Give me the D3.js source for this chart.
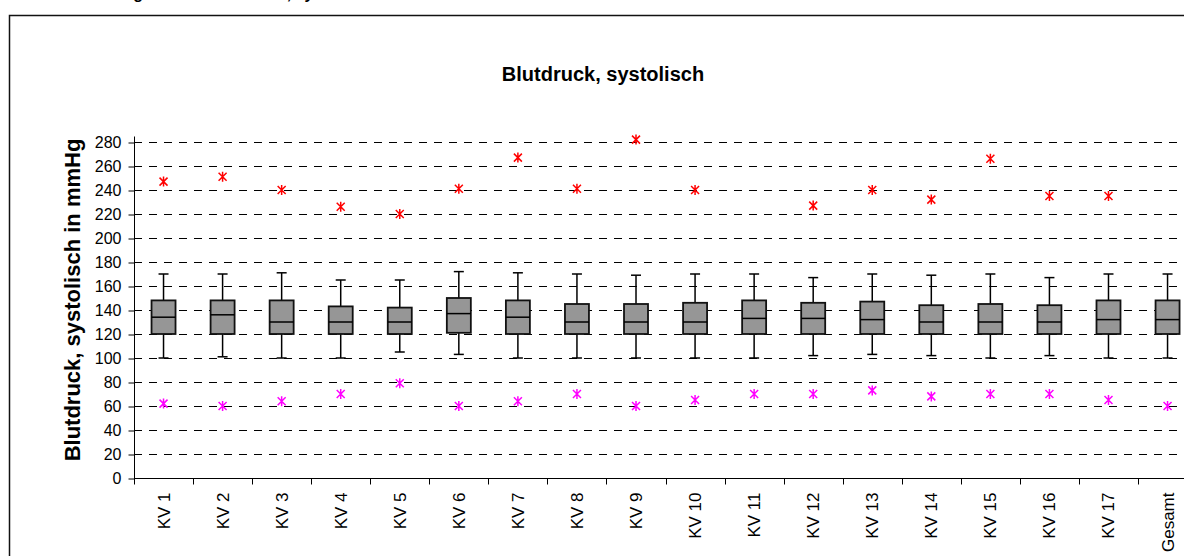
<!DOCTYPE html>
<html>
<head>
<meta charset="utf-8">
<script src="https://cdn.jsdelivr.net/npm/d3@7"></script>
<style>
  body { margin: 0; background: #fff; }
  svg { display: block; font-family: "Liberation Sans", Arial, sans-serif; }
</style>
</head>
<body>
<svg id="chart" width="1184" height="556"></svg>
<script>
// Kategorien und Kennwerte je KV
var categories = ["KV 1", "KV 2", "KV 3", "KV 4", "KV 5", "KV 6", "KV 7", "KV 8", "KV 9",
  "KV 10", "KV 11", "KV 12", "KV 13", "KV 14", "KV 15", "KV 16", "KV 17", "Gesamt"];
var whiskerLow  = [100, 101, 100, 100, 105, 103, 100, 100, 100, 100, 100, 102, 103, 102, 100, 102, 100, 100];
var quartil1    = [120, 120, 120, 120, 120, 121, 120, 120, 120, 120, 120, 120, 120, 120, 120, 120, 120, 120];
var median      = [134, 136, 130, 130, 130, 137, 134, 130, 130, 130, 133, 133, 132, 130, 130, 130, 132, 132];
var quartil3    = [148, 148, 148, 143, 142, 150, 148, 145, 145, 146, 148, 146, 147, 144, 145, 144, 148, 148];
var whiskerHigh = [170, 170, 171, 165, 165, 172, 171, 170, 169, 170, 170, 167, 170, 169, 170, 167, 170, 170];
var maxima      = [247, 251, 240, 226, 220, 241, 267, 241, 282, 240, null, 227, 240, 232, 266, 235, 235, null];
var minima      = [62, 60, 64, 70, 79, 60, 64, 70, 60, 65, 70, 70, 73, 68, 70, 70, 65, 60];
var yTicks = [0, 20, 40, 60, 80, 100, 120, 140, 160, 180, 200, 220, 240, 260, 280];

var svg = d3.select("#chart");
var plot = { left: 134, top: 142, bottom: 478, band: 59.06 };

var rows = categories.map(function(c, i) {
  return { cat: c, lo: whiskerLow[i], q1: quartil1[i], med: median[i], q3: quartil3[i],
    hi: whiskerHigh[i], max: maxima[i], min: minima[i] };
});

var x = d3.scaleBand()
  .domain(categories)
  .range([plot.left, plot.left + plot.band * categories.length])
  .padding(0);
var y = d3.scaleLinear().domain([0, 280]).range([plot.bottom, plot.top]);

// abgeschnittene Überschrift oben (nur Unterlängen sichtbar)
svg.append("text").attr("x", 64).attr("y", -1)
  .attr("font-size", 16).attr("font-weight", "bold").text("Abbildung 14:");
svg.append("text").attr("x", 212).attr("y", -1)
  .attr("font-size", 16).attr("font-weight", "bold").text("Blutdruck, systolisch");

// Rahmen
svg.append("path")
  .attr("d", "M9.5,560 L9.5,15.5 L1190,15.5")
  .attr("fill", "none").attr("stroke", "#111").attr("stroke-width", 1.5);

// Titel
svg.append("text")
  .attr("x", 603).attr("y", 81)
  .attr("text-anchor", "middle")
  .attr("font-size", 20).attr("font-weight", "bold")
  .text("Blutdruck, systolisch");

// Gitterlinien
svg.append("g").selectAll("line").data(yTicks.filter(function(d) { return d > 0; }))
  .enter().append("line")
  .attr("x1", plot.left).attr("x2", 1184)
  .attr("y1", function(d) { return Math.round(y(d)) + 0.5; })
  .attr("y2", function(d) { return Math.round(y(d)) + 0.5; })
  .attr("stroke", "#000").attr("stroke-width", 1)
  .attr("stroke-dasharray", "8,7");

// y-Achse
var yAxis = svg.append("g")
  .attr("transform", "translate(" + (plot.left + 0.5) + ",0.5)")
  .call(d3.axisLeft(y).tickValues(yTicks).tickSize(6).tickPadding(7).tickSizeOuter(0));
yAxis.select(".domain").attr("d", "M0," + (plot.top - 6) + "V" + plot.bottom);
yAxis.selectAll("text").attr("font-size", 16).attr("font-family", "Liberation Sans, Arial, sans-serif").attr("fill", "#000");
yAxis.selectAll("line, path").attr("stroke", "#000");

// x-Achse
var xAxis = svg.append("g")
  .attr("transform", "translate(0," + (plot.bottom + 0.5) + ")");
xAxis.append("line").attr("x1", plot.left).attr("x2", 1184)
  .attr("stroke", "#000");
xAxis.selectAll(".tick").data(categories).enter().append("line")
  .attr("x1", function(d) { return Math.round(x(d)) + 0.5; })
  .attr("x2", function(d) { return Math.round(x(d)) + 0.5; })
  .attr("y1", 0).attr("y2", 6).attr("stroke", "#000");
xAxis.selectAll(".lbl").data(categories).enter().append("text")
  .attr("transform", function(d) {
    return "translate(" + (x(d) + x.bandwidth() / 2 + 6) + ",14) rotate(-90)";
  })
  .attr("text-anchor", "end")
  .attr("font-size", 17)
  .text(function(d) { return d; });

// y-Achsentitel
svg.append("text")
  .attr("transform", "translate(80,300) rotate(-90)")
  .attr("text-anchor", "middle")
  .attr("font-size", 22).attr("font-weight", "bold")
  .text("Blutdruck, systolisch in mmHg");

// Boxplots
var boxW = 24, capW = 10;
var boxes = svg.append("g").selectAll("g").data(rows).enter().append("g")
  .attr("transform", function(d) { return "translate(" + (x(d.cat) + x.bandwidth() / 2) + ",0)"; });

boxes.append("line")
  .attr("x1", 0).attr("x2", 0)
  .attr("y1", function(d) { return y(d.lo); }).attr("y2", function(d) { return y(d.hi); })
  .attr("stroke", "#000").attr("stroke-width", 1.5);
boxes.append("line")
  .attr("x1", -capW / 2).attr("x2", capW / 2)
  .attr("y1", function(d) { return y(d.hi); }).attr("y2", function(d) { return y(d.hi); })
  .attr("stroke", "#000").attr("stroke-width", 1.5);
boxes.append("line")
  .attr("x1", -capW / 2).attr("x2", capW / 2)
  .attr("y1", function(d) { return y(d.lo); }).attr("y2", function(d) { return y(d.lo); })
  .attr("stroke", "#000").attr("stroke-width", 1.5);
boxes.append("rect")
  .attr("x", -boxW / 2).attr("width", boxW)
  .attr("y", function(d) { return y(d.q3); })
  .attr("height", function(d) { return y(d.q1) - y(d.q3); })
  .attr("fill", "#969696").attr("stroke", "#111").attr("stroke-width", 1.8);
boxes.append("line")
  .attr("x1", -boxW / 2).attr("x2", boxW / 2)
  .attr("y1", function(d) { return y(d.med); }).attr("y2", function(d) { return y(d.med); })
  .attr("stroke", "#000").attr("stroke-width", 1.5);

// Extremwerte als Sternchen
var star = "M-4,-4L4,4M-4,4L4,-4M0,-5L0,5";
boxes.filter(function(d) { return d.max != null; }).append("path")
  .attr("d", star)
  .attr("transform", function(d) { return "translate(0," + y(d.max) + ")"; })
  .attr("fill", "none").attr("stroke", "#ff0000").attr("stroke-width", 1.5);
boxes.append("path")
  .attr("d", star)
  .attr("transform", function(d) { return "translate(0," + y(d.min) + ")"; })
  .attr("fill", "none").attr("stroke", "#ff00ff").attr("stroke-width", 1.5);
</script>
</body>
</html>
